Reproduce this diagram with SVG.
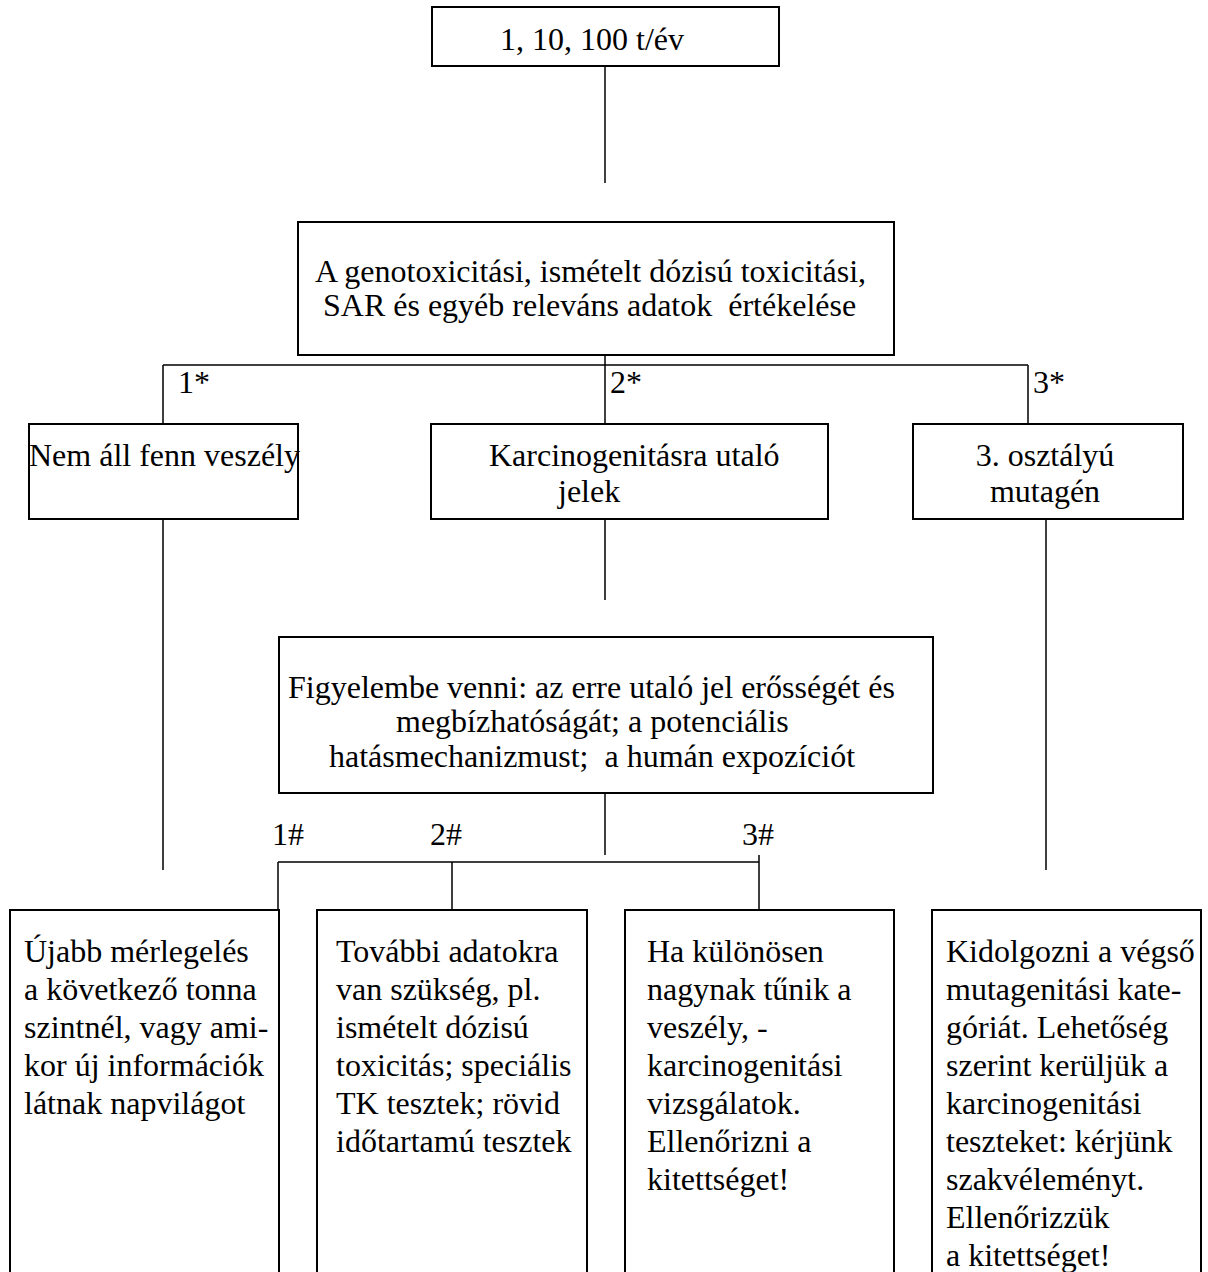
<svg xmlns="http://www.w3.org/2000/svg" width="1208" height="1272" viewBox="0 0 1208 1272">
<style>
.b{fill:#fff;stroke:#000;stroke-width:2}
.c{fill:none;stroke:#000;stroke-width:1.5}
text{font-family:"Liberation Serif","Times New Roman",serif;font-size:32px;fill:#000;white-space:pre}
.m{text-anchor:middle}
</style>
<rect width="1208" height="1272" fill="#fff"/>
<g id="connectors">
<path class="c" d="M605 66V183"/>
<path class="c" d="M605 325V424"/>
<path class="c" d="M163 365H1028M163 365V424M1028 365V424"/>
<path class="c" d="M163 519V870M605 519V600M1046 519V870"/>
<path class="c" d="M605 793V855"/>
<path class="c" d="M278 862H759M278 862V910M452 862V910M759 855V910"/>
</g>
<g id="n-top"><rect class="b" x="432" y="7" width="347" height="59"/><text x="500" y="50">1, 10, 100 t/év</text></g>
<g id="n-eval"><rect class="b" x="298" y="222" width="596" height="133"/><text x="315" y="282" xml:space="preserve">A genotoxicitási, ismételt dózisú toxicitási,</text><text x="323" y="316" xml:space="preserve">SAR és egyéb releváns adatok  értékelése</text></g>
<g id="n-no"><rect class="b" x="29" y="424" width="269" height="95"/><text x="29" y="466">Nem áll fenn veszély</text></g>
<g id="n-karc"><rect class="b" x="431" y="424" width="397" height="95"/><text x="489" y="466">Karcinogenitásra utaló</text><text x="558" y="502">jelek</text></g>
<g id="n-mut"><rect class="b" x="913" y="424" width="270" height="95"/><text class="m" x="1045" y="466">3. osztályú</text><text class="m" x="1045" y="502">mutagén</text></g>
<g id="n-fig"><rect class="b" x="279" y="637" width="654" height="156"/><text x="288" y="698">Figyelembe venni: az erre utaló jel erősségét és</text><text x="396" y="732">megbízhatóságát; a potenciális</text><text x="329" y="767" xml:space="preserve">hatásmechanizmust;  a humán expozíciót</text></g>
<g id="labels"><text x="272" y="845">1#</text><text x="430" y="845">2#</text><text x="742" y="845">3#</text><text x="178" y="393">1*</text><text x="610" y="393">2*</text><text x="1033" y="393">3*</text></g>
<g id="n-b1"><rect class="b" x="10" y="910" width="269" height="400"/><text x="24" y="962">Újabb mérlegelés</text><text x="24" y="1000">a következő tonna</text><text x="24" y="1038">szintnél, vagy ami-</text><text x="24" y="1076">kor új információk</text><text x="24" y="1114">látnak napvilágot</text></g>
<g id="n-b2"><rect class="b" x="317" y="910" width="270" height="400"/><text x="336" y="962">További adatokra</text><text x="336" y="1000">van szükség, pl.</text><text x="336" y="1038">ismételt dózisú</text><text x="336" y="1076">toxicitás; speciális</text><text x="336" y="1114">TK tesztek; rövid</text><text x="336" y="1152">időtartamú tesztek</text></g>
<g id="n-b3"><rect class="b" x="625" y="910" width="269" height="400"/><text x="647" y="962">Ha különösen</text><text x="647" y="1000">nagynak tűnik a</text><text x="647" y="1038">veszély, -</text><text x="647" y="1076">karcinogenitási</text><text x="647" y="1114">vizsgálatok.</text><text x="647" y="1152">Ellenőrizni a</text><text x="647" y="1190">kitettséget!</text></g>
<g id="n-b4"><rect class="b" x="932" y="910" width="269" height="400"/><text x="946" y="962">Kidolgozni a végső</text><text x="946" y="1000">mutagenitási kate-</text><text x="946" y="1038">góriát. Lehetőség</text><text x="946" y="1076">szerint kerüljük a</text><text x="946" y="1114">karcinogenitási</text><text x="946" y="1152">teszteket: kérjünk</text><text x="946" y="1190">szakvéleményt.</text><text x="946" y="1228">Ellenőrizzük</text><text x="946" y="1266">a kitettséget!</text></g>
</svg>
